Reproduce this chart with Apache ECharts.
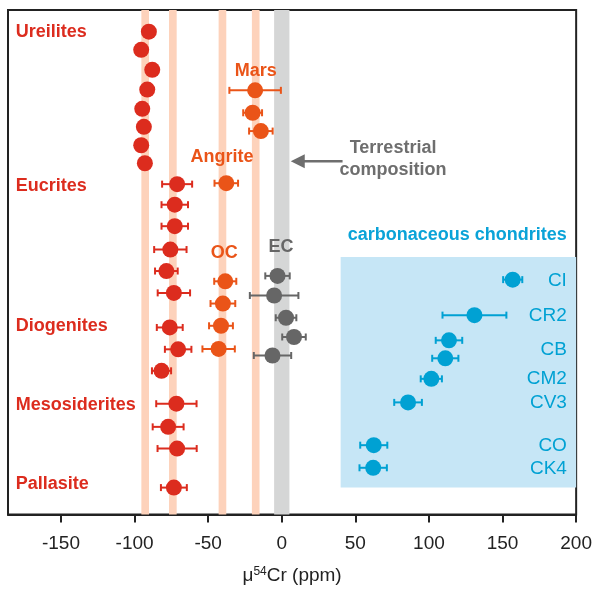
<!DOCTYPE html>
<html><head><meta charset="utf-8">
<script src="https://cdn.jsdelivr.net/npm/echarts@6/dist/echarts.min.js"></script>
<style>html,body{margin:0;padding:0;background:#fff}#c{width:595px;height:590px}</style>
</head><body><div id="c"></div>
<script>
// ---- data ----
var xTicks = [-150, -100, -50, 0, 50, 100, 150, 200];

var ureiliteX = [-90.3, -95.5, -88.0, -91.4, -94.8, -93.7, -95.5, -93.0];
var ureiliteY = [1.16, 2.13, 3.20, 4.26, 5.29, 6.25, 7.24, 8.20];

var marsX = [-18.1, -19.8, -14.2];
var marsErr = [17.5, 6.4, 8.0];
var marsY = [4.30, 5.50, 6.48];

var angriteX = [-37.7];
var angriteErr = [8.0];
var angriteY = [9.27];

var eucriteX = [-71.1, -72.7, -72.7, -75.7, -78.4, -73.3];
var eucriteErr = [10.2, 9.0, 9.0, 11.0, 7.7, 11.0];
var eucriteY = [9.32, 10.42, 11.57, 12.82, 13.97, 15.14];

var diogeniteX = [-76.1, -70.4, -81.7];
var diogeniteErr = [8.8, 9.0, 6.5];
var diogeniteY = [16.99, 18.16, 19.31];

var mesoX = [-71.6, -77.2, -71.1];
var mesoErr = [13.7, 10.5, 13.3];
var mesoY = [21.07, 22.31, 23.47];

var pallasiteX = [-73.3];
var pallasiteErr = [8.8];
var pallasiteY = [25.56];

var ocX = [-38.4, -40.0, -41.3, -42.9];
var ocErr = [7.5, 8.4, 8.1, 11.0];
var ocY = [14.52, 15.71, 16.90, 18.14];

var ecX = [-2.9, -5.2, 2.9, 8.3, -6.3];
var ecErr = [8.3, 16.5, 7.0, 8.0, 12.7];
var ecY = [14.23, 15.28, 16.47, 17.50, 18.49];

var ccX = [156.9, 130.9, 113.6, 111.1, 101.6, 85.8, 62.5, 62.1];
var ccErr = [6.5, 21.7, 9.0, 8.9, 7.2, 9.4, 9.2, 9.3];
var ccY = [14.43, 16.33, 17.68, 18.64, 19.74, 21.00, 23.29, 24.50];

var ccLabels = ['CI', 'CR2', 'CB', 'CM2', 'CV3', 'CO', 'CK4'];
var ccLabelY = [14.48, 16.35, 18.16, 19.76, 21.03, 23.32, 24.55];
var ccLabelX = 193.7;

var groupLabels = ['Ureilites', 'Eucrites', 'Diogenites', 'Mesosiderites', 'Pallasite'];
var groupLabelY = [1.16, 9.43, 16.90, 21.13, 25.39];
var groupLabelX = -180.8;

// bands: [lo, hi]
var peachBands = [[-95.4, -90.2], [-76.6, -71.4], [-42.9, -37.7], [-20.3, -15.1]];
var greyBand = [-5.2, 5.2];
var ccBox = [40, 200, 13.22, 25.56];

// ---- colours ----
var RED = '#dc2c1e', ORANGE = '#ea5418', GREY = '#666666', BLUE = '#00a1d3';
var FONT = '"Liberation Sans", Arial, sans-serif';

function zip3(xs, ys, es) { return xs.map(function (x, i) { return [x, ys[i], es ? es[i] : 0]; }); }

function errSeries(xs, ys, es, color) {
  return {
    type: 'custom', z: 3, silent: true,
    renderItem: function (params, api) {
      var a = api.coord([api.value(0) - api.value(2), api.value(1)]);
      var b = api.coord([api.value(0) + api.value(2), api.value(1)]);
      var h = 3.5;
      var st = { stroke: color, lineWidth: 2 };
      return { type: 'group', children: [
        { type: 'line', shape: { x1: a[0], y1: a[1], x2: b[0], y2: b[1] }, style: st },
        { type: 'line', shape: { x1: a[0], y1: a[1] - h, x2: a[0], y2: a[1] + h }, style: st },
        { type: 'line', shape: { x1: b[0], y1: b[1] - h, x2: b[0], y2: b[1] + h }, style: st }
      ] };
    },
    encode: { x: 0, y: 1 },
    data: zip3(xs, ys, es)
  };
}
function dotSeries(xs, ys, color) {
  return { type: 'scatter', z: 4, symbol: 'circle', symbolSize: 16, silent: true,
    itemStyle: { color: color, opacity: 1 }, data: zip3(xs, ys).map(function (d) { return [d[0], d[1]]; }) };
}
function textSeries(items) {
  // items: [x, y, text, color, weight, size, align]
  return {
    type: 'custom', z: 5, silent: true,
    renderItem: function (params, api) {
      var it = items[params.dataIndex];
      var p = api.coord([it[0], it[1]]);
      return { type: 'text', x: p[0], y: p[1], style: {
        text: it[2], fill: it[3], fontWeight: it[4], fontSize: it[5], fontFamily: FONT,
        align: it[6], verticalAlign: 'middle' } };
    },
    encode: { x: 0, y: 1 },
    data: items.map(function (it) { return [it[0], it[1]]; })
  };
}

var texts = [];
groupLabels.forEach(function (t, i) { texts.push([groupLabelX, groupLabelY[i], t, RED, 'bold', 18, 'left']); });
ccLabels.forEach(function (t, i) { texts.push([ccLabelX, ccLabelY[i], t, BLUE, 'normal', 19, 'right']); });
texts.push([-17.6, 3.29, 'Mars', ORANGE, 'bold', 18, 'center']);
texts.push([-40.6, 7.87, 'Angrite', ORANGE, 'bold', 18, 'center']);
texts.push([-39.1, 12.99, 'OC', ORANGE, 'bold', 18, 'center']);
texts.push([-0.5, 12.69, 'EC', GREY, 'bold', 18, 'center']);
texts.push([75.6, 7.40, 'Terrestrial', '#6e6e6e', 'bold', 18, 'center']);
texts.push([75.6, 8.57, 'composition', '#6e6e6e', 'bold', 18, 'center']);
texts.push([119.2, 12.07, 'carbonaceous chondrites', '#0aa3d8', 'bold', 18, 'center']);

var bandSeries = {
  type: 'custom', z: 1, silent: true,
  renderItem: function (params, api) {
    var cs = params.coordSys;
    var a = api.coord([api.value(0), 0]);
    var b = api.coord([api.value(1), 0]);
    return { type: 'rect', shape: { x: a[0], y: cs.y, width: b[0] - a[0], height: cs.height },
      style: { fill: api.value(2) === 1 ? '#d5d6d6' : '#fdd2bb' } };
  },
  encode: { x: [0, 1] },
  data: peachBands.map(function (b) { return [b[0], b[1], 0]; }).concat([[greyBand[0], greyBand[1], 1]])
};

var boxSeries = {
  type: 'custom', z: 1, silent: true,
  renderItem: function (params, api) {
    var a = api.coord([api.value(0), api.value(2)]);
    var b = api.coord([api.value(1), api.value(3)]);
    return { type: 'rect', shape: { x: a[0], y: a[1], width: b[0] - a[0], height: b[1] - a[1] },
      style: { fill: '#c6e6f6' } };
  },
  encode: { x: [0, 1], y: [2, 3] },
  data: [ccBox]
};

var arrowFrom = [41.3, 8.09], arrowTo = [6.1, 8.09];
var arrowSeries = {
  type: 'custom', z: 5, silent: true,
  renderItem: function (params, api) {
    var a = api.coord([api.value(0), api.value(1)]);
    var b = api.coord([api.value(2), api.value(3)]);
    var L = 14, H = 7;
    return { type: 'group', children: [
      { type: 'line', shape: { x1: a[0], y1: a[1], x2: b[0] + L - 1, y2: b[1] }, style: { stroke: '#6e6e6e', lineWidth: 2.5 } },
      { type: 'polygon', shape: { points: [[b[0], b[1]], [b[0] + L, b[1] - H], [b[0] + L, b[1] + H]] }, style: { fill: '#6e6e6e' } }
    ] };
  },
  encode: { x: [0, 2], y: [1, 3] },
  data: [[arrowFrom[0], arrowFrom[1], arrowTo[0], arrowTo[1]]]
};

var option = {
  animation: false,
  grid: { left: 8, right: 15, top: 10, bottom: 73, show: true, borderColor: '#222', borderWidth: 2, backgroundColor: 'transparent' },
  xAxis: {
    type: 'value', min: -186, max: 200,
    splitLine: { show: false },
    axisLine: { show: true, onZero: false, lineStyle: { color: '#222', width: 2 } },
    axisTick: { show: true, length: 8, inside: false, lineStyle: { color: '#222', width: 2 }, customValues: xTicks },
    axisLabel: { customValues: xTicks, color: '#222', fontSize: 19, fontFamily: FONT, margin: 20 },
    name: '{a|μ}{s|54}{a|Cr (ppm)}', nameLocation: 'middle', nameGap: 51,
    nameTextStyle: { rich: {
      a: { fontSize: 19, fontFamily: FONT, color: '#222' },
      s: { fontSize: 12, fontFamily: FONT, color: '#222', padding: [0, 0, 8, 0] }
    } }
  },
  yAxis: { type: 'value', min: 0, max: 27, inverse: true, show: false, splitLine: { show: false } },
  series: [
    bandSeries, boxSeries,
    errSeries(marsX, marsY, marsErr, ORANGE),
    errSeries(angriteX, angriteY, angriteErr, ORANGE),
    errSeries(eucriteX, eucriteY, eucriteErr, RED),
    errSeries(diogeniteX, diogeniteY, diogeniteErr, RED),
    errSeries(mesoX, mesoY, mesoErr, RED),
    errSeries(pallasiteX, pallasiteY, pallasiteErr, RED),
    errSeries(ocX, ocY, ocErr, ORANGE),
    errSeries(ecX, ecY, ecErr, GREY),
    errSeries(ccX, ccY, ccErr, BLUE),
    dotSeries(ureiliteX, ureiliteY, RED),
    dotSeries(marsX, marsY, ORANGE),
    dotSeries(angriteX, angriteY, ORANGE),
    dotSeries(eucriteX, eucriteY, RED),
    dotSeries(diogeniteX, diogeniteY, RED),
    dotSeries(mesoX, mesoY, RED),
    dotSeries(pallasiteX, pallasiteY, RED),
    dotSeries(ocX, ocY, ORANGE),
    dotSeries(ecX, ecY, GREY),
    dotSeries(ccX, ccY, BLUE),
    textSeries(texts),
    arrowSeries
  ]
};
var chart = echarts.init(document.getElementById('c'), null, { renderer: 'canvas' });
chart.setOption(option);
</script></body></html>
